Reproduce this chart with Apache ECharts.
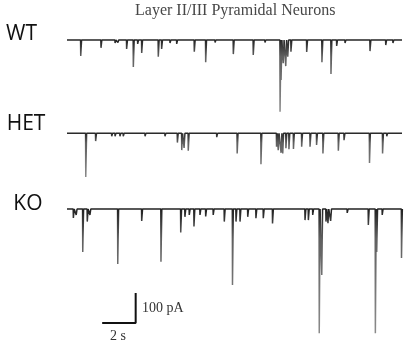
<!DOCTYPE html>
<html>
<head>
<meta charset="utf-8">
<script src="https://cdn.jsdelivr.net/npm/echarts@6/dist/echarts.min.js"></script>
<style>html,body{margin:0;padding:0;background:#fff}#c{width:405px;height:347px}</style>
</head>
<body>
<div id="c"></div>
<script>
// Event times (s) and peak currents (pA) read from the recordings
const wtTimes  = [0.82, 2.03, 2.87, 3.04, 3.56, 3.96, 4.22, 4.46, 5.45, 5.65, 6.15, 6.55, 7.60, 8.28, 8.84, 9.93, 11.12, 11.82, 12.72, 12.78, 12.91, 13.06, 13.18, 13.37, 14.31, 15.22, 15.76, 16.10, 16.60, 18.09, 19.03, 19.46];
const wtPeaks  = [-53, -26, -10, -8, -30, -90, -13, -43, -56, -30, -10, -13, -39, -74, -8, -47, -50, -8, -239, -133, -77, -87, -56, -39, -40, -74, -113, -20, -10, -37, -17, -10];

const hetTimes = [1.12, 1.71, 2.67, 2.87, 3.16, 3.36, 4.66, 5.85, 6.59, 6.85, 6.99, 7.24, 8.94, 10.16, 11.58, 12.51, 12.61, 12.78, 12.88, 13.07, 13.25, 13.52, 14.01, 14.51, 14.90, 15.28, 16.20, 16.54, 18.06, 18.84, 19.09];
const hetPeaks = [-146, -26, -10, -10, -10, -10, -10, -10, -31, -56, -49, -58, -13, -67, -103, -45, -56, -65, -67, -50, -53, -52, -45, -45, -39, -67, -58, -23, -99, -67, -10];

const koTimes  = [0.38, 0.55, 0.94, 1.21, 1.37, 3.03, 4.46, 5.61, 6.79, 7.04, 7.30, 7.58, 7.94, 8.28, 8.73, 9.39, 9.88, 10.09, 10.33, 10.79, 11.28, 11.72, 12.27, 14.21, 14.41, 14.67, 15.06, 15.21, 15.46, 15.58, 15.74, 16.73, 17.99, 18.41, 18.49, 18.82, 19.97];
const koPeaks  = [-30, -20, -143, -42, -20, -183, -40, -176, -78, -26, -20, -58, -20, -25, -20, -42, -253, -42, -42, -26, -31, -31, -48, -37, -37, -20, -414, -220, -42, -47, -40, -13, -53, -414, -143, -20, -163];

const groupLabels = ['WT', 'HET', 'KO'];
const titleText = 'Layer II/III Pyramidal Neurons';
const scaleTime = 2;      // s
const scaleCurrent = 100; // pA
const scaleTimeLabel = '2 s';
const scaleCurrentLabel = '100 pA';

function buildTrace(times, peaks) {
  const pts = [[0, 0]];
  for (let i = 0; i < times.length; i++) {
    const t = times[i];
    pts.push([t - 0.01, 0], [t, peaks[i]], [t + 0.05, 0]);
  }
  pts.push([20, 0]);
  return pts;
}

const chart = echarts.init(document.getElementById('c'), null, {renderer: 'canvas'});
const tops = [28, 121.3, 197];
const grids = tops.map(t => ({left: 67, right: 3, top: t, height: 147, containLabel: false}));
const xAxes = tops.map((t, i) => ({type: 'value', gridIndex: i, min: 0, max: 20, show: false}));
const yAxes = tops.map((t, i) => ({type: 'value', gridIndex: i, min: -450, max: 40, show: false}));

function traceStyle() {
  return {
    width: 1.5,
    color: new echarts.graphic.LinearGradient(0, 0, 0, 1, [
      {offset: 0, color: '#1c1c1c'},
      {offset: 0.06, color: '#2c2c2c'},
      {offset: 0.25, color: '#606060'},
      {offset: 1, color: '#8c8c8c'}
    ])
  };
}
const series = [
  {type: 'line', name: 'WT', xAxisIndex: 0, yAxisIndex: 0, data: buildTrace(wtTimes, wtPeaks), showSymbol: false, symbol: 'none', lineStyle: traceStyle(), silent: true},
  {type: 'line', name: 'HET', xAxisIndex: 1, yAxisIndex: 1, data: buildTrace(hetTimes, hetPeaks), showSymbol: false, symbol: 'none', lineStyle: traceStyle(), silent: true},
  {type: 'line', name: 'KO', xAxisIndex: 2, yAxisIndex: 2, data: buildTrace(koTimes, koPeaks), showSymbol: false, symbol: 'none', lineStyle: traceStyle(), silent: true},
  {type: 'line', name: 'scale', xAxisIndex: 2, yAxisIndex: 2,
   data: [[2.1, -380], [2.1 + scaleTime, -380], [2.1 + scaleTime, -380 + scaleCurrent]],
   showSymbol: false, symbol: 'none', lineStyle: {color: '#111', width: 2}, silent: true}
];

const labelPos = [[6, 34.2], [6.7, 124.2], [13.3, 203.9]];
const graphic = groupLabels.map((s, i) => ({
  type: 'text', x: labelPos[i][0], y: labelPos[i][1],
  style: {text: s, font: '21px "Open Sans", "Liberation Sans", sans-serif', fill: '#111', textVerticalAlign: 'middle', textAlign: 'left'}
}));
graphic.push({type: 'text', x: 142, y: 308.3, style: {text: scaleCurrentLabel, font: '14px "Liberation Serif", serif', fill: '#333', textVerticalAlign: 'middle'}});
graphic.push({type: 'text', x: 110, y: 336.7, style: {text: scaleTimeLabel, font: '14px "Liberation Serif", serif', fill: '#333', textVerticalAlign: 'middle'}});

chart.setOption({
  animation: false,
  backgroundColor: '#fff',
  title: {text: titleText, left: 135, top: 3, padding: 0,
    textStyle: {fontFamily: '"Liberation Serif", serif', fontSize: 16, fontWeight: 'normal', color: '#474747'}},
  grid: grids, xAxis: xAxes, yAxis: yAxes, series: series, graphic: graphic
});
</script>
</body>
</html>
